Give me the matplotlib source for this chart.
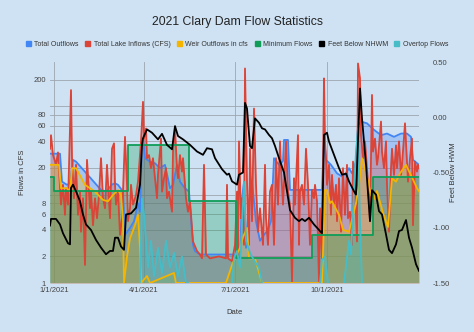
import numpy as np
import matplotlib
matplotlib.use("Agg")
import matplotlib.pyplot as plt
import matplotlib.dates as mdates
from matplotlib.patches import Patch
from matplotlib.ticker import NullLocator, FixedLocator, FixedFormatter, FormatStrFormatter

plt.rcParams['font.family'] = ['Liberation Sans', 'DejaVu Sans']

BASE = np.datetime64('2021-01-01')

# Total Outflows (cfs): day offset from 1/1/2021, value
outflow_days = [-4, 6, 8, 13, 16, 19, 22, 47, 52, 58, 61, 64, 69, 71, 76, 80, 84, 86, 88, 89, 91, 96,
                101, 106, 111, 116, 119, 123, 126, 131, 135, 139, 141, 146, 181, 183, 186, 188, 190, 192,
                195, 198, 202, 206, 210, 214, 217, 220, 225, 229, 230, 234, 236, 268, 270, 272, 277, 283,
                288, 292, 295, 298, 302, 304, 307, 313, 320, 327, 333, 340, 347, 353, 357, 359, 365]
outflow_cfs = [29, 29, 14, 12.9, 13.4, 24.7, 23.6, 11.3, 10.8, 13, 13.4, 12.9, 10.8, 3.5, 4.2, 5, 8, 6.4,
               40, 41.5, 25.8, 23.6, 22.6, 19.9, 21.7, 11.8, 12.9, 21.7, 14, 11.8, 10.8, 2.7, 2.3, 2.1,
               2.1, 1.9, 2.0, 9, 14, 2.5, 8, 14, 5, 3, 3.5, 4, 5, 25.8, 21.7, 24, 41.5, 41.5, 11.3, 11.3,
               47, 24.7, 21.7, 17.4, 16, 17.4, 19.9, 17.4, 23.6, 60, 67, 64, 54, 47, 49, 45, 49, 49, 45,
               24.7, 21.7]

# Total Lake Inflows (cfs)
inflow_days = [-4, -3, -1, 2, 4, 7, 9, 11, 12, 14, 17, 18, 20, 22, 24, 26, 27, 29, 31, 33, 36, 37, 39,
               41, 43, 45, 47, 49, 51, 53, 56, 58, 60, 61, 62, 64, 66, 68, 71, 73, 74, 76, 77, 79, 82,
               84, 87, 89, 90, 92, 93, 95, 97, 99, 101, 103, 104, 107, 108, 110, 112, 113, 115, 118,
               119, 121, 123, 124, 126, 128, 129, 132, 134, 136, 139, 143, 146, 148, 150, 152, 156,
               165, 172, 173, 174, 178, 181, 183, 184, 185, 187, 188, 190, 191, 193, 195, 196, 198,
               200, 202, 204, 206, 209, 211, 212, 214, 216, 218, 220, 222, 224, 226, 227, 229, 231,
               232, 234, 236, 238, 240, 241, 244, 245, 246, 248, 250, 252, 254, 256, 258, 260, 261,
               263, 265, 266, 268, 270, 271, 272, 273, 275, 277, 278, 280, 282, 283, 285, 287, 289,
               291, 293, 294, 296, 298, 299, 301, 303, 304, 306, 307, 309, 311, 313, 314, 316, 318,
               319, 321, 323, 324, 327, 328, 330, 332, 333, 335, 337, 338, 340, 342, 343, 345, 347,
               348, 351, 353, 354, 356, 358, 359, 361, 363, 364, 365]
inflow_cfs = [33, 47, 28, 22, 30, 7.7, 12.9, 5.9, 11.8, 7.7, 152, 25.8, 9.1, 21.7, 5.9, 10.8, 3.8, 9.1,
              1.6, 24.7, 7.0, 10.8, 4.5, 9.1, 5.4, 9.9, 25.8, 9.1, 7.0, 21.7, 5.4, 33, 38, 12.9, 7.7,
              10.8, 3.5, 5.4, 45, 12.9, 5.0, 7.0, 12.9, 7.7, 9.9, 14, 40, 112, 43, 56, 25.8, 28, 19.9,
              25.8, 15.3, 9.1, 16.7, 43, 10.8, 15.3, 19.9, 9.1, 10.8, 6.4, 30.6, 56, 19.9, 15.3, 28,
              18.2, 25.8, 9.1, 6.4, 8.4, 2.95, 2.3, 2.1, 1.9, 21.7, 2.1, 1.9, 2.0, 1.9, 12.9, 1.9,
              1.76, 2.7, 10.8, 1.9, 40, 5.4, 9.1, 2.7, 267, 14, 2.7, 33, 5.0, 94, 12.9, 3.8, 7.0,
              2.7, 21.7, 5.4, 2.7, 10.8, 12.9, 2.7, 25.8, 7.7, 40, 19.9, 7.7, 23.6, 40, 10.8, 7.7,
              1.04, 15.3, 7.7, 47, 2.7, 10.8, 12.9, 7.7, 33, 12.9, 2.7, 11.3, 9.1, 12.9, 8.4, 1.04,
              7.0, 1.9, 206, 40, 25.8, 12.9, 21.7, 5.9, 16.7, 7.7, 12.9, 5.0, 15.3, 3.8, 19.9, 5.9,
              21.7, 5.4, 6.4, 2.7, 23.6, 10.8, 2.95, 304, 206, 47, 25.8, 40, 19.9, 14, 5.0, 134,
              30.6, 43, 21.7, 25.8, 67, 30.6, 19.9, 40, 12.9, 3.8, 19.9, 33, 16.7, 36, 19.9, 40,
              16.7, 21.7, 64, 23.6, 14, 25.8, 43, 4.5, 23.6, 18.2, 21.7, 19.9]

# Weir Outflows in cfs
weir_days = [-4, 5, 7, 13, 16, 18, 22, 31, 41, 49, 54, 59, 64, 67, 69, 70, 73, 76, 81, 84, 86, 87, 93,
             96, 120, 122, 172, 178, 181, 186, 189, 193, 195, 201, 208, 268, 271, 273, 276, 278,
             285, 289, 295, 302, 305, 308, 312, 317, 320, 323, 329, 334, 338, 342, 346, 352, 356,
             360, 363, 365]
weir_cfs = [21.7, 21.7, 11.8, 11.8, 10.8, 19.9, 19.9, 12.9, 10.8, 8.7, 8.4, 9.9, 11.3, 9.9, 5, 1, 2,
            3.2, 4.5, 5.9, 2.5, 1, 1.2, 1.0, 1.3, 1.0, 1.0, 1.6, 1.9, 2.5, 3.3, 4.2, 1.9, 1.9, 1.0,
            1.0, 11.2, 11.3, 8, 8.4, 5.9, 4.0, 3.8, 8, 12.9, 25.8, 17.9, 9.8, 8.9, 11, 6.2, 4.3,
            15.3, 14, 17.4, 21.7, 17.4, 14, 11.8, 10.9]

# Minimum Flows (cfs), stepped
minflow_days = [-4, 0, 74, 135, 182, 258, 319, 365]
minflow_cfs = [16, 11, 36, 8.4, 1.9, 3.5, 16, 16]

# Overtop Flows (cfs); NaN where the dam is not overtopping
overtop_days = [86, 88, 90, 92, 94, 97, 100, 104, 108, 112, 116, 120, 124, 128, 132, 134, 135,
                178, 180, 183, 186, 190, 192, 196, 200, 205, 208, 209,
                266, 268, 271, 274, 275,
                290, 295, 297, 300, 302, 304, 306, 308]
overtop_cfs = [1, 9, 6, 3, 1.5, 3, 1.2, 2.5, 1.3, 3, 1.5, 2.2, 1.2, 2, 1.0, 1, np.nan,
               1, 1.9, 2.3, 1.5, 14, 3, 2.2, 1.8, 1.5, 1, np.nan,
               1, 1.8, 2, 1.0, np.nan,
               1, 3, 2.1, 12, 30, 56, 5, 1]

# Feet Below NHWM (ft), right axis
level_days = [-4, -3, 2, 6, 9, 14, 16, 17, 19, 22, 26, 29, 32, 37, 42, 47, 52, 56, 59, 61, 64, 67, 70,
              72, 77, 82, 86, 88, 89, 93, 98, 104, 108, 113, 118, 121, 124, 129, 136, 143, 149, 153,
              158, 161, 168, 173, 175, 178, 183, 185, 189, 191, 193, 196, 198, 201, 205, 208, 211,
              215, 218, 221, 225, 230, 233, 236, 241, 245, 248, 251, 255, 260, 265, 268, 270, 273,
              275, 280, 285, 288, 292, 295, 300, 302, 306, 308, 312, 316, 318, 322, 325, 328, 332,
              335, 338, 342, 345, 348, 352, 355, 358, 362, 365]
level_ft = [-0.98, -0.92, -0.92, -0.97, -1.05, -1.14, -1.15, -0.64, -0.61, -0.67, -0.76, -0.88, -0.97,
            -1.02, -1.11, -1.18, -1.24, -1.21, -1.21, -1.09, -1.09, -1.17, -1.20, -0.88, -0.87, -0.82,
            -0.61, -0.25, -0.19, -0.11, -0.14, -0.20, -0.15, -0.25, -0.29, -0.08, -0.17, -0.20, -0.25,
            -0.31, -0.34, -0.28, -0.29, -0.37, -0.47, -0.52, -0.51, -0.58, -0.61, -0.52, -0.50, 0.13,
            0.08, -0.26, -0.28, -0.01, -0.05, -0.10, -0.11, -0.16, -0.19, -0.26, -0.37, -0.50, -0.67,
            -0.84, -0.91, -0.94, -0.92, -0.94, -0.91, -0.97, -1.02, -1.05, -0.16, -0.14, -0.22, -0.34,
            -0.46, -0.52, -0.51, -0.58, -0.67, -0.70, 0.26, -0.01, -0.43, -0.94, -0.66, -0.70, -0.85,
            -0.88, -1.06, -1.20, -1.23, -1.15, -1.03, -1.02, -0.93, -1.09, -1.18, -1.33, -1.39]

flow_ticks = [1, 2, 4, 6, 8, 10, 20, 40, 60, 80, 100, 200]
flow_tick_labels = ['1', '2', '4', '6', '8', '', '20', '40', '60', '80', '', '200']
level_ticks = [-1.5, -1.0, -0.5, 0.0, 0.5]
date_ticks = ['2021-01-01', '2021-04-01', '2021-07-01', '2021-10-01']

BG = '#cfe2f3'
C_BLUE = '#4285f4'
C_RED = '#db4437'
C_YELLOW = '#f4b400'
C_GREEN = '#0f9d58'
C_TEAL = '#46bdc6'
GRID = '#9da6b0'


def to_dates(days):
    return BASE + np.asarray(days).astype('timedelta64[D]')


fig = plt.figure(figsize=(4.74, 3.32), dpi=100, facecolor=BG)
ax = fig.add_axes([50 / 474, 49 / 332, 369 / 474, 221 / 332])
ax.set_facecolor(BG)
ax.set_yscale('log')
ax.set_ylim(1, 316)
ax.set_xlim(to_dates([-4])[0], to_dates([365])[0])

FLOOR = 1
alpha = 0.3
lw = 1.3

series = [
    (outflow_days, outflow_cfs, C_BLUE, None),
    (inflow_days, inflow_cfs, C_RED, None),
    (weir_days, weir_cfs, C_YELLOW, None),
    (minflow_days, minflow_cfs, C_GREEN, 'post'),
    (overtop_days, overtop_cfs, C_TEAL, None),
]
for days, vals, col, step in series:
    x = to_dates(days)
    y = np.asarray(vals, dtype=float)
    if step:
        ax.fill_between(x, FLOOR, y, step=step, color=col, alpha=alpha, lw=0)
        ax.plot(x, y, drawstyle='steps-post', color=col, lw=lw)
    else:
        ax.fill_between(x, FLOOR, y, where=~np.isnan(y), color=col, alpha=alpha, lw=0)
        ax.plot(x, y, color=col, lw=lw)

ax.yaxis.set_major_locator(FixedLocator(flow_ticks))
ax.yaxis.set_major_formatter(FixedFormatter(flow_tick_labels))
ax.yaxis.set_minor_locator(NullLocator())
ax.set_xticks(np.array(date_ticks, dtype='datetime64[D]'))
ax.xaxis.set_major_formatter(mdates.DateFormatter('%-m/%-d/%Y'))
ax.tick_params(length=0, labelsize=5.5, colors='#444444', pad=3)
ax.grid(True, axis='both', color=GRID, lw=0.6)
ax.set_axisbelow(True)
for s in ax.spines.values():
    s.set_visible(False)

ax2 = ax.twinx()
ax2.plot(to_dates(level_days), level_ft, color='black', lw=lw)
ax2.set_ylim(-1.5, 0.5)
ax2.set_yticks(level_ticks)
ax2.yaxis.set_major_formatter(FormatStrFormatter('%.2f'))
ax2.tick_params(length=0, labelsize=5.5, colors='#444444', pad=10)
for s in ax2.spines.values():
    s.set_visible(False)

ax.set_ylabel('Flows in CFS', fontsize=5.5, color='#333333', labelpad=5)
ax2.set_ylabel('Feet Below HWM', fontsize=5.5, color='#333333', labelpad=0)
ax.set_xlabel('Date', fontsize=5.5, color='#333333', labelpad=11)

fig.text(0.5, 1 - 22 / 332, '2021 Clary Dam Flow Statistics', ha='center', va='center',
         fontsize=8.8, color='#222222')

handles = [Patch(color=c) for c in [C_BLUE, C_RED, C_YELLOW, C_GREEN, 'black', C_TEAL]]
labels = ['Total Outflows', 'Total Lake Inflows (CFS)', 'Weir Outflows in cfs', 'Minimum Flows',
          'Feet Below NHWM', 'Overtop Flows']
fig.legend(handles, labels, loc='center', bbox_to_anchor=(0.5, 1 - 44 / 332), ncol=6,
           frameon=False, fontsize=5.0, handlelength=0.7, handleheight=0.7,
           handletextpad=0.5, columnspacing=0.95, labelcolor='#333333')

fig.savefig('out.png', dpi=100, facecolor=BG)
